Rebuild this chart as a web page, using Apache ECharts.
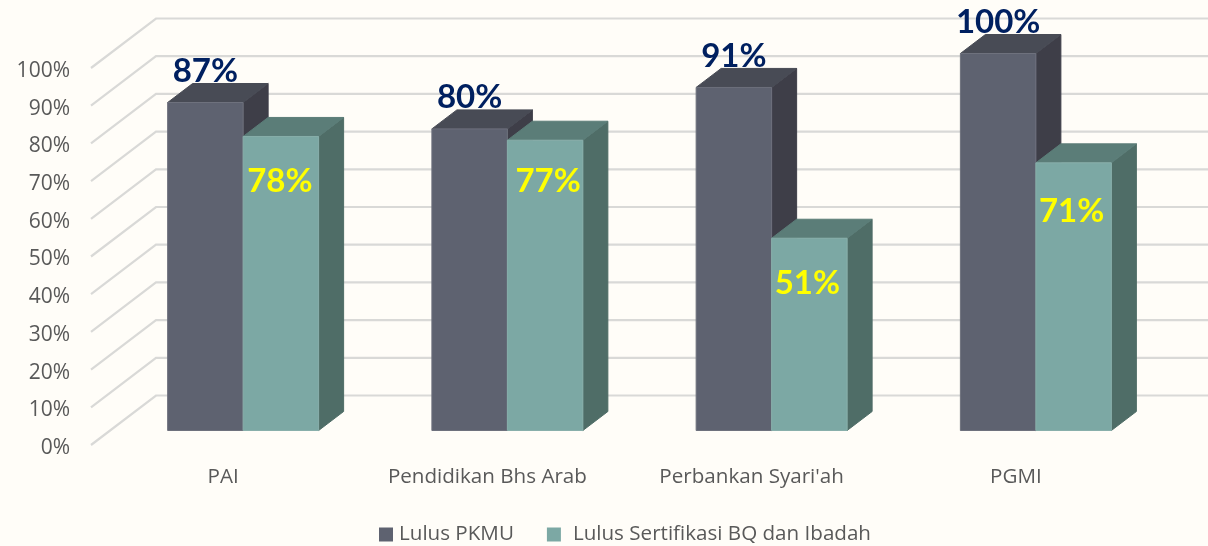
<!DOCTYPE html>
<html>
<head>
<meta charset="utf-8">
<style>html,body{margin:0;padding:0;background:#FFFDF8}#c{width:1208px;height:546px}</style>
<script src="https://cdn.jsdelivr.net/npm/echarts@6/dist/echarts.min.js"></script>
</head>
<body>
<div id="c"></div>
<script>
var categories = ['PAI', 'Pendidikan Bhs Arab', "Perbankan Syari'ah", 'PGMI'];
var lulusPKMU = [87, 80, 91, 100];
var lulusSertifikasi = [78, 77, 51, 71];
var tickValues = [0, 10, 20, 30, 40, 50, 60, 70, 80, 90, 100];
var seriesNames = ['Lulus PKMU', 'Lulus Sertifikasi BQ dan Ibadah'];

var FONT = '"Open Sans", "Noto Sans", sans-serif';
var LABEL_FONT = 'Lato, "Noto Sans", sans-serif';
var TEXT = '#595959';

var WALL = {dx: 65, dy: -49.5};         // depth of the side wall
var PLACE = {dx: 20, dy: -14.5};        // bars stand inside the floor
var DEPTH = {dx: 25, dy: -19};          // bar depth
var BAR_RATIO = 0.2857;

var darkStyle = {front: '#5E6270', top: '#484B55', side: '#3E3E48', edge: '#6E717D', label: '#002060'};
var tealStyle = {front: '#7CA8A4', top: '#5B7D78', side: '#4F6D67', edge: '#88AFAB', label: '#FFFF00'};
// hand placement of the labels relative to the default spot
var darkNudge = [[0, 0], [0, 0], [0, 0], [0, 0]];
var tealNudge = [[-1, 0], [3, -4], [-2, 0], [-2, 4]];

function wallItem(params, api) {
  var v = api.value(1);
  var size = api.size([1, 0])[0];
  var first = api.coord([0, v]);
  var last = api.coord([categories.length - 1, v]);
  var x0 = first[0] - size / 2, x1 = last[0] + size / 2, y = first[1];
  return {
    type: 'polyline', silent: true,
    shape: {points: [[x0, y], [x0 + WALL.dx, y + WALL.dy], [x1 + WALL.dx, y + WALL.dy]]},
    style: {stroke: '#D9D9D7', lineWidth: 2.2, fill: null}
  };
}

function barItem(side, st, nudge) {
  return function (params, api) {
    var i = api.value(0), v = api.value(1);
    var top = api.coord([i, v]), base = api.coord([i, 0]);
    var w = api.size([1, 0])[0] * BAR_RATIO;
    var cx = top[0] + PLACE.dx;
    var l = side === 0 ? cx - w : cx, r = l + w;
    var t = top[1] + PLACE.dy, b = base[1] + PLACE.dy;
    var dx = DEPTH.dx, dy = DEPTH.dy;
    function poly(points, fill, stroke) {
      return {type: 'polygon', shape: {points: points},
        style: {fill: fill, stroke: stroke || fill, lineWidth: 1}};
    }
    var labelX = (l + r) / 2 + nudge[i][0];
    var labelY = (side === 0 ? t - 31.5 : t + 45) + nudge[i][1];
    return {
      type: 'group',
      children: [
        poly([[r, t], [r + dx, t + dy], [r + dx, b + dy], [r, b]], st.side),
        poly([[l, t], [l + dx, t + dy], [r + dx, t + dy], [r, t]], st.top),
        poly([[l, t], [r, t], [r, b], [l, b]], st.front, st.edge),
        {type: 'text', z2: 10, style: {
          text: v + '%', x: labelX, y: labelY, align: 'center', verticalAlign: 'middle',
          fill: st.label, fontFamily: LABEL_FONT, fontWeight: 'bold', fontSize: 33
        }}
      ]
    };
  };
}

function pairs(values) {
  return values.map(function (v, i) { return [i, v]; });
}

var chart = echarts.init(document.getElementById('c'), null, {renderer: 'canvas'});
chart.setOption({
  animation: false,
  backgroundColor: '#FFFDF8',
  textStyle: {fontFamily: FONT},
  grid: {left: 91, right: 60, top: 68, bottom: 101, containLabel: false},
  xAxis: {
    type: 'category', data: categories,
    axisLine: {show: false}, axisTick: {show: false}, splitLine: {show: false},
    axisLabel: {interval: 0, color: TEXT, fontFamily: FONT, fontSize: 20.6, margin: 22}
  },
  yAxis: {
    type: 'value', min: 0, max: 100, interval: 10,
    axisLine: {show: false}, axisTick: {show: false}, splitLine: {show: false},
    axisLabel: {
      margin: 21,
      formatter: function (v) { return '{t|' + v + '%}'; },
      rich: {t: {color: TEXT, fontFamily: FONT, fontSize: 21, padding: [6, 0, 0, 0]}}
    }
  },
  legend: {
    left: 379, top: 524, padding: 0, icon: 'rect', itemWidth: 14, itemHeight: 14, itemGap: 33,
    data: [
      {name: seriesNames[0], textStyle: {padding: [3, 0, 0, 1]}},
      {name: seriesNames[1], textStyle: {padding: [3, 0, 0, 7]}}
    ],
    textStyle: {color: TEXT, fontFamily: FONT, fontSize: 20.6, padding: [3, 0, 0, 1]}
  },
  series: [
    {type: 'custom', silent: true, z: 1, data: pairs(tickValues).map(function (p) { return [0, p[1]]; }),
      renderItem: wallItem, encode: {x: 0, y: 1}},
    {type: 'custom', name: seriesNames[0], z: 2, data: pairs(lulusPKMU),
      itemStyle: {color: darkStyle.front}, renderItem: barItem(0, darkStyle, darkNudge), encode: {x: 0, y: 1}},
    {type: 'custom', name: seriesNames[1], z: 3, data: pairs(lulusSertifikasi),
      itemStyle: {color: tealStyle.front}, renderItem: barItem(1, tealStyle, tealNudge), encode: {x: 0, y: 1}}
  ]
});
</script>
</body>
</html>
